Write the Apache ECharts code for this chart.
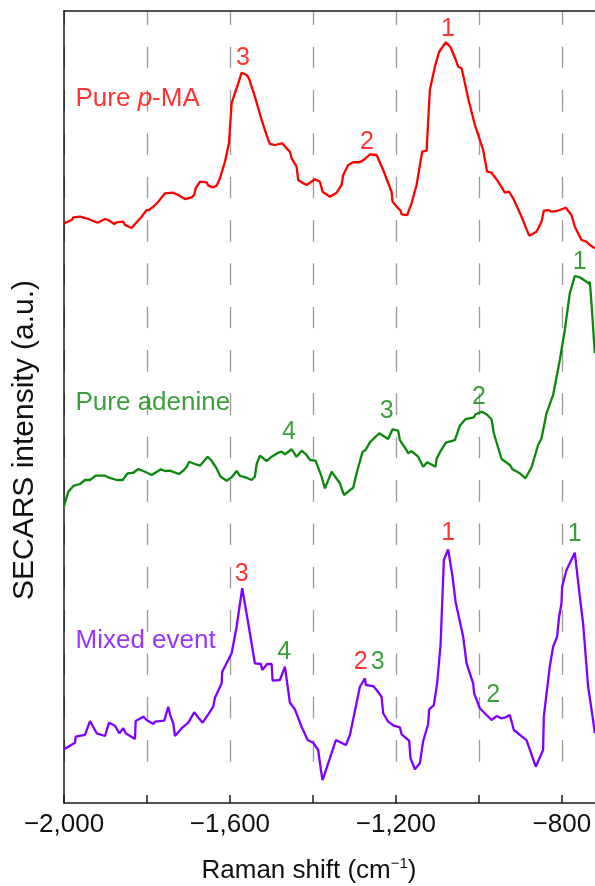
<!DOCTYPE html>
<html>
<head>
<meta charset="utf-8">
<script src="https://cdn.jsdelivr.net/npm/echarts@6/dist/echarts.min.js"></script>
<style>
html,body{margin:0;padding:0;background:#ffffff;}
#chart{width:595px;height:886px;}
</style>
</head>
<body>
<div id="chart"></div>
<script>
// ---------- data (Raman shift in cm^-1, intensity in a.u., traces stacked as displayed) ----------
const labeledTicks = [-2000, -1600, -1200, -800];

const pmaShift = [-2000,-1981.4,-1977.6,-1961.4,-1941.4,-1918.8,-1901.2,-1893.3,-1878.8,-1873.0,-1857.1,-1853.0,-1836.9,-1828.9,-1812.8,-1800.7,-1795.2,-1784.8,-1772.8,-1756.6,-1736.6,-1724.6,-1708.4,-1692.3,-1686.0,-1682.7,-1672.3,-1656.2,-1652.3,-1640.3,-1632.1,-1624.1,-1612.0,-1602.4,-1595.9,-1589.6,-1580.0,-1571.8,-1559.8,-1554.2,-1539.8,-1523.6,-1507.7,-1503.6,-1491.6,-1474.0,-1463.4,-1455.4,-1451.3,-1439.3,-1435.4,-1423.4,-1415.2,-1395.2,-1383.1,-1376.6,-1359.0,-1342.9,-1330.8,-1327.0,-1314.9,-1302.9,-1286.7,-1274.7,-1262.7,-1246.5,-1230.6,-1210.4,-1208.0,-1194.5,-1188.7,-1186.3,-1172.8,-1162.2,-1150.1,-1136.6,-1126.0,-1118.1,-1106.0,-1095.7,-1079.5,-1068.2,-1055.4,-1049.9,-1041.7,-1036.1,-1025.8,-1009.6,-989.6,-980.0,-969.4,-953.5,-937.3,-927.0,-917.3,-897.1,-878.8,-861.0,-848.9,-843.4,-833.0,-824.8,-811.3,-790.4,-776.6,-768.7,-752.5,-740.5,-732.5,-720.5];
const pmaIntensity = [73.19,73.61,73.95,74.03,73.74,73.27,73.74,73.61,73.11,73.32,73.40,72.98,72.60,73.11,74.03,74.87,74.87,75.29,75.92,76.98,77.06,76.77,76.26,76.48,76.77,77.61,78.45,78.37,77.94,77.74,77.94,78.88,80.97,83.30,88.35,89.39,90.87,92.21,91.92,91.50,89.18,86.24,83.71,83.21,83.08,83.30,82.66,82.23,81.40,80.34,78.66,78.25,78.03,78.75,78.45,77.18,76.55,77.06,78.03,79.29,80.56,80.90,80.90,81.31,81.91,81.82,79.92,77.18,75.92,75.09,74.79,74.33,74.24,75.72,78.03,82.23,82.36,90.03,92.97,94.86,96.05,95.42,93.81,92.97,92.77,91.50,88.98,85.61,82.45,79.71,79.58,78.45,77.06,77.18,76.35,74.03,71.63,72.13,73.40,74.79,74.87,74.66,74.75,75.16,74.24,72.77,71.09,70.87,70.45,70.04];

const adenineShift = [-2000,-1989.6,-1977.6,-1961.4,-1949.4,-1937.3,-1923.6,-1901.2,-1893.3,-1873.0,-1858.6,-1846.5,-1833.0,-1821.0,-1804.8,-1788.7,-1766.3,-1756.6,-1744.6,-1722.9,-1712.5,-1704.3,-1698.1,-1684.3,-1672.3,-1653.7,-1645.8,-1633.7,-1622.4,-1607.9,-1595.9,-1583.9,-1575.9,-1559.8,-1547.7,-1539.8,-1535.7,-1527.7,-1511.6,-1499.5,-1483.6,-1475.4,-1467.5,-1451.3,-1439.3,-1427.3,-1415.2,-1407.2,-1393.5,-1379.0,-1371.1,-1354.9,-1334.9,-1325.3,-1302.9,-1294.7,-1280.2,-1273.0,-1262.7,-1240.2,-1218.6,-1208.0,-1194.5,-1190.4,-1174.3,-1170.4,-1162.2,-1146.3,-1134.2,-1124.6,-1104.3,-1101.9,-1092.3,-1079.5,-1057.8,-1045.8,-1032.0,-1012.0,-1008.0,-992.1,-981.5,-969.4,-963.9,-945.3,-925.3,-918.8,-901.2,-897.1,-887.5,-873.0,-857.1,-848.9,-836.9,-821.0,-804.8,-792.8,-780.7,-768.7,-756.6,-740.5,-734.2,-732.5,-728.4,-720.5];
const adenineIntensity = [37.50,39.31,40.03,40.28,40.78,40.78,41.33,41.33,41.12,40.78,40.78,41.63,41.70,42.17,41.83,41.41,42.13,41.92,41.96,41.54,41.96,42.46,43.09,42.80,42.59,43.72,43.31,42.39,41.20,40.69,41.12,41.92,41.29,41.07,40.78,41.20,42.77,43.85,43.18,43.72,44.23,44.36,44.03,44.66,43.72,44.48,43.94,43.31,43.22,41.20,39.73,41.83,40.37,38.89,39.81,41.63,44.36,44.57,45.54,46.68,45.96,47.18,47.01,45.83,44.57,44.15,44.44,43.72,42.46,43.02,42.46,43.43,44.44,45.49,45.83,47.64,48.48,48.70,49.08,49.41,49.08,48.45,46.68,43.43,42.68,42.13,41.63,41.76,41.00,42.39,45.20,46.05,49.20,51.52,55.93,59.72,64.36,66.54,66.38,65.82,65.53,65.82,63.09,56.80];

const mixedShift = [-2000,-1973.5,-1971.8,-1949.4,-1937.3,-1921.2,-1901.2,-1891.6,-1877.1,-1866.7,-1857.1,-1851.3,-1828.9,-1827.2,-1808.9,-1800.7,-1784.8,-1780.7,-1758.3,-1748.7,-1744.6,-1736.6,-1732.5,-1714.0,-1700.5,-1686.0,-1677.8,-1665.8,-1652.3,-1640.3,-1636.1,-1620.0,-1618.6,-1604.1,-1595.9,-1583.9,-1570.4,-1555.9,-1539.8,-1525.3,-1522.2,-1510.1,-1499.5,-1497.1,-1479.5,-1467.5,-1455.4,-1443.4,-1427.3,-1412.8,-1399.3,-1387.3,-1380.7,-1376.6,-1344.6,-1320.5,-1310.8,-1286.7,-1274.7,-1272.3,-1254.7,-1246.5,-1234.5,-1230.6,-1218.6,-1204.8,-1190.4,-1186.3,-1168.0,-1164.6,-1154.2,-1142.2,-1134.2,-1122.2,-1119.8,-1108.4,-1100.5,-1092.3,-1084.3,-1074.0,-1063.4,-1056.1,-1037.8,-1029.6,-1013.7,-1011.3,-997.6,-969.4,-957.3,-945.3,-937.3,-925.3,-915.7,-885.1,-862.7,-845.1,-843.4,-829.0,-821.0,-811.3,-806.5,-800.7,-799.3,-788.7,-768.7,-756.6,-748.7,-736.6,-724.6,-720.5];
const mixedIntensity = [6.78,7.61,8.37,8.59,10.35,8.80,8.46,10.14,9.76,8.80,9.43,8.80,8.08,10.35,10.90,10.48,9.97,10.27,10.39,12.16,11.20,10.06,8.46,9.56,10.14,11.45,10.90,10.14,11.20,12.16,13.30,15.11,16.58,18.06,18.90,22.26,27.11,22.69,17.64,17.55,16.79,17.55,17.55,15.44,15.53,17.21,12.66,11.83,9.63,7.95,7.61,6.69,4.17,2.90,7.95,7.32,8.59,14.68,15.74,14.90,14.77,14.27,13.42,11.33,10.27,9.76,9.56,8.67,7.87,5.64,4.26,5.01,7.83,9.94,11.83,12.37,15.11,19.95,30.68,32.03,28.57,25.42,21.00,17.64,15.11,13.85,11.96,10.48,10.98,10.69,10.77,11.11,9.22,7.95,4.58,6.69,10.90,17.21,19.73,21.00,23.52,25.25,27.31,29.42,31.60,26.05,22.69,14.68,10.48,8.80];

// peak number annotations: [text, shift, intensity, source]
const peakLabels = [
  ['3', -1568.7, 94.07, 'pma'], ['2', -1269.9, 83.46, 'pma'], ['1', -1074.7, 97.73, 'pma'],
  ['4', -1457.8, 46.78, 'ade'], ['3', -1222.4, 49.49, 'ade'], ['2', -1000.0, 51.30, 'ade'], ['1', -756.6, 68.24, 'ade'],
  ['3', -1571.8, 28.91, 'pma'], ['4', -1469.2, 19.00, 'ade'], ['2', -1284.8, 17.84, 'pma'], ['3', -1243.9, 17.84, 'ade'],
  ['1', -1074.0, 34.05, 'pma'], ['2', -965.6, 13.64, 'ade'], ['1', -768.7, 33.96, 'ade']
];
// trace names: [text, shift, intensity, source]
const traceNames = [
  ['Pure {i|p}-MA', -1973.5, 88.9, 'pma'],
  ['Pure adenine', -1973.5, 50.57, 'ade'],
  ['Mixed event', -1973.5, 20.45, 'mix']
];

// ---------- styling ----------
const FONT = "'Liberation Sans', Arial, Helvetica, sans-serif";
const COLORS = { pma: '#ff0000', ade: '#0b870b', mix: '#8000ff' };
const AXIS_COLOR = '#1a1a1a';
// dashed grid: 18 dashes from the top, ending a little above the x axis
const GRID_DASH = [];
for (let k = 0; k < 17; k++) GRID_DASH.push(21.67, 21.67);
GRID_DASH.push(21.67, 80);

const zip = (xs, ys) => xs.map((x, i) => [x, ys[i]]);
function lineSeries(name, xs, ys, color) {
  return {
    type: 'line', name, data: zip(xs, ys), symbol: 'none', showSymbol: false,
    lineStyle: { color, width: 2.3 }, itemStyle: { color }, silent: true, z: 3
  };
}

const annotationData = peakLabels.map(([t, x, y, src]) => ({
  value: [x, y], text: t,
  label: { color: COLORS[src], position: 'inside', fontSize: 25 }
})).concat(traceNames.map(([t, x, y, src]) => ({
  value: [x, y], text: t,
  label: {
    color: COLORS[src], position: 'right', distance: 0, fontSize: 26,
    rich: { i: { fontStyle: 'italic', fontSize: 26, fontFamily: FONT, color: COLORS[src] } }
  }
})));

const chart = echarts.init(document.getElementById('chart'), null, { renderer: 'canvas' });

const option = {
  animation: false,
  backgroundColor: '#ffffff',
  grid: { left: 64, top: 11, right: 0, bottom: 83, containLabel: false },
  xAxis: [{
    type: 'value', position: 'bottom', min: -2000, max: -720, interval: 200,
    axisLine: { show: true, onZero: false, lineStyle: { color: AXIS_COLOR, width: 1.5 } },
    axisTick: { show: true, inside: true, length: 8, lineStyle: { color: AXIS_COLOR, width: 1.5 } },
    axisLabel: {
      show: true, margin: 9, color: '#111', fontSize: 26, fontFamily: FONT,
      showMaxLabel: false,
      formatter: v => labeledTicks.includes(v) ? '\u2212' + Math.abs(v).toLocaleString('en-US') : ''
    },
    splitLine: { show: true, showMaxLine: false, lineStyle: { color: '#9a9a9a', width: 1.3, type: GRID_DASH, dashOffset: 7.7 } }
  }, {
    type: 'value', position: 'top', min: -2000, max: -720, interval: 200,
    axisLine: { show: true, onZero: false, lineStyle: { color: AXIS_COLOR, width: 1.5 } },
    axisTick: { show: false }, axisLabel: { show: false }, splitLine: { show: false }
  }],
  yAxis: {
    type: 'value', min: 0, max: 100,
    axisLine: { show: true, onZero: false, lineStyle: { color: AXIS_COLOR, width: 1.5 } },
    axisTick: { show: false }, axisLabel: { show: false }, splitLine: { show: false }
  },
  series: [
    lineSeries('Pure p-MA', pmaShift, pmaIntensity, COLORS.pma),
    lineSeries('Pure adenine', adenineShift, adenineIntensity, COLORS.ade),
    lineSeries('Mixed event', mixedShift, mixedIntensity, COLORS.mix),
    {
      type: 'scatter', name: 'annotations', data: annotationData, symbolSize: 1,
      itemStyle: { color: 'rgba(0,0,0,0)' }, silent: true, z: 5,
      label: { show: true, fontFamily: FONT, fontSize: 25, formatter: p => p.data.text }
    }
  ],
  graphic: [
    {
      type: 'text', x: 25, y: 440, rotation: Math.PI / 2, silent: true,
      style: {
        text: 'SECARS intensity (a.u.)', fontSize: 30, fontFamily: FONT, fill: '#111',
        align: 'center', verticalAlign: 'middle', textAlign: 'center', textVerticalAlign: 'middle'
      }
    },
    {
      type: 'text', x: 309, y: 871, silent: true,
      style: {
        text: '{a|Raman shift (cm}{s|\u22121}{a|)}', fill: '#111', fontSize: 26, fontFamily: FONT,
        align: 'center', verticalAlign: 'middle', textAlign: 'center', textVerticalAlign: 'middle',
        rich: {
          a: { fontSize: 26, fontFamily: FONT, fill: '#111', color: '#111', lineHeight: 30 },
          s: { fontSize: 15, fontFamily: FONT, fill: '#111', color: '#111', verticalAlign: 'top', lineHeight: 18 }
        }
      }
    }
  ]
};
chart.setOption(option);
</script>
</body>
</html>
